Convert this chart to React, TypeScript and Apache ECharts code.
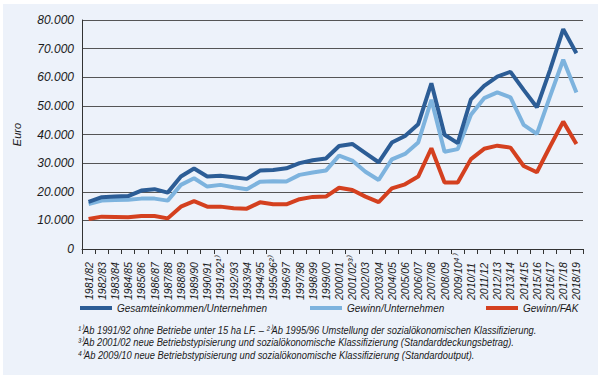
import React, { useEffect, useRef } from "react";
import * as echarts from "echarts";

const categories = [
  "1981/82", "1982/83", "1983/84", "1984/85", "1985/86", "1986/87", "1987/88", "1988/89",
  "1989/90", "1990/91", "1991/92¹⁾", "1992/93", "1993/94", "1994/95", "1995/96²⁾", "1996/97",
  "1997/98", "1998/99", "1999/00", "2000/01", "2001/02³⁾", "2002/03", "2003/04", "2004/05",
  "2005/06", "2006/07", "2007/08", "2008/09", "2009/10⁴⁾", "2010/11", "2011/12", "2012/13",
  "2013/14", "2014/15", "2015/16", "2016/17", "2017/18", "2018/19",
];

const gesamtUnternehmen = [
  16500, 18100, 18300, 18500, 20400, 20900, 19700, 25300, 28100, 25300, 25600, 25100, 24500,
  27400, 27600, 28200, 30000, 31000, 31600, 36000, 36700, 33500, 30300, 37200, 39500, 43600,
  57900, 39900, 37000, 52300, 57000, 60200, 61900, 55600, 49500, 62600, 76800, 68400,
];

const gewinnUnternehmen = [
  15700, 16900, 17100, 17200, 17600, 17600, 16900, 22400, 24700, 21800, 22400, 21600, 20900,
  23500, 23700, 23600, 25900, 26700, 27400, 32600, 30900, 27000, 24100, 31300, 33200, 37200,
  52100, 34000, 34900, 46900, 52700, 54700, 53000, 43400, 40200, 53300, 66100, 54700,
];

const gewinnFAK = [
  10500, 11300, 11200, 11100, 11500, 11500, 10700, 14800, 16700, 14800, 14800, 14200, 14100,
  16300, 15600, 15600, 17400, 18200, 18300, 21400, 20600, 18300, 16400, 21200, 22600, 25300,
  35200, 23200, 23200, 31400, 35000, 36100, 35400, 29000, 26800, 35800, 44500, 36700,
];

const seriesNames = ["Gesamteinkommen/Unternehmen", "Gewinn/Unternehmen", "Gewinn/FAK"];
const seriesColors = ["#2c5d96", "#7db3de", "#d4401f"];

const footnotes = [
  "¹⁾Ab 1991/92 ohne Betriebe unter 15 ha LF. – ²⁾Ab 1995/96 Umstellung der sozialökonomischen Klassifizierung.",
  "³⁾Ab 2001/02 neue Betriebstypisierung und sozialökonomische Klassifizierung (Standarddeckungsbetrag).",
  "⁴⁾Ab 2009/10 neue Betriebstypisierung und sozialökonomische Klassifizierung (Standardoutput).",
];

const SANS = "'Liberation Sans', Arial, sans-serif";

export default function App() {
  const ref = useRef<HTMLDivElement>(null);

  useEffect(() => {
    document.body.style.margin = "0";
    if (!ref.current) return;
    const chart = echarts.init(ref.current, null, { renderer: "svg" });
    const dataSets = [gesamtUnternehmen, gewinnUnternehmen, gewinnFAK];
    const legendLefts = [80, 310, 486];

    chart.setOption({
      animation: false,
      backgroundColor: "#ffffff",
      graphic: [
        {
          type: "rect",
          z: -10,
          silent: true,
          shape: { x: 3, y: 4, width: 595, height: 371 },
          style: { fill: "#edf2fa" },
        },
        ...footnotes.map((t, i) => ({
          type: "text",
          x: 78,
          y: 330 + i * 12.5,
          scaleX: 0.89,
          style: {
            text: t,
            fontFamily: SANS,
            fontStyle: "italic",
            fontSize: 10.5,
            fill: "#1a1a1a",
            textVerticalAlign: "middle",
          },
        })),
      ],
      legend: seriesNames.map((n, i) => ({
        data: [n],
        left: legendLefts[i],
        top: 303,
        icon: "rect",
        itemWidth: 32,
        itemHeight: 4,
        padding: 0,
        textStyle: {
          fontFamily: SANS,
          fontStyle: "italic",
          fontSize: 10,
          color: "#1a1a1a",
        },
      })),
      grid: { left: 82, right: 17, top: 20, bottom: 128 },
      xAxis: {
        type: "category",
        data: categories,
        boundaryGap: true,
        axisLine: { show: true, lineStyle: { color: "#333", width: 1 } },
        axisTick: { show: true, length: 5, lineStyle: { color: "#333" } },
        axisLabel: {
          rotate: 90,
          interval: 0,
          align: "left",
          verticalAlign: "middle",
          margin: 51,
          fontFamily: SANS,
          fontStyle: "italic",
          fontSize: 10.5,
          color: "#1a1a1a",
        },
      },
      yAxis: {
        type: "value",
        min: 0,
        max: 80000,
        interval: 10000,
        name: "Euro",
        nameLocation: "middle",
        nameGap: 60,
        nameRotate: 90,
        nameTextStyle: {
          fontFamily: SANS,
          fontStyle: "italic",
          fontSize: 11,
          color: "#1a1a1a",
        },
        axisLine: { show: true, lineStyle: { color: "#333", width: 1 } },
        axisTick: { show: false },
        splitLine: { show: true, lineStyle: { color: "#555", width: 1 } },
        axisLabel: {
          margin: 8,
          fontFamily: SANS,
          fontStyle: "italic",
          fontSize: 12,
          color: "#1a1a1a",
          formatter: (v: number) =>
            v === 0 ? "0" : String(v).replace(/\B(?=(\d{3})+(?!\d))/g, "."),
        },
      },
      series: seriesNames.map((n, i) => ({
        name: n,
        type: "line",
        data: dataSets[i],
        symbol: "none",
        color: seriesColors[i],
        lineStyle: { color: seriesColors[i], width: 4 },
        z: 10 - i,
      })),
    });

    return () => chart.dispose();
  }, []);

  return <div ref={ref} style={{ width: 600, height: 377 }} />;
}
